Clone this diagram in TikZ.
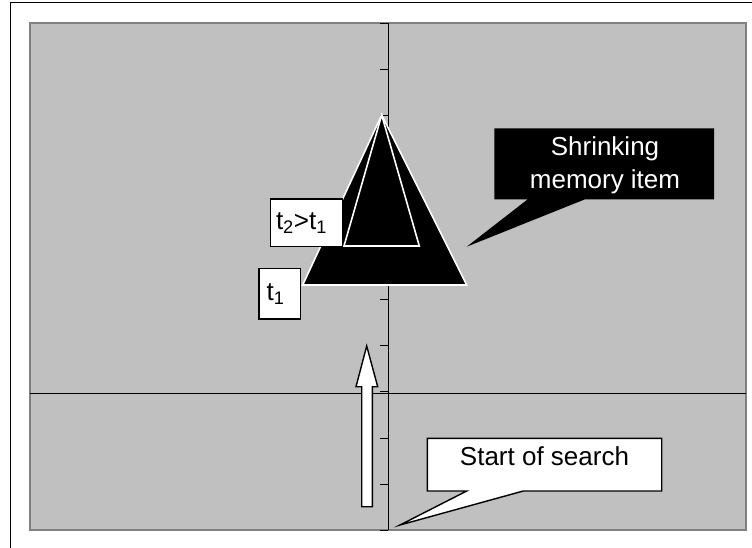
\documentclass[tikz,border=0pt]{standalone}
\usepackage{fontspec}
\setmainfont{Liberation Sans}
\definecolor{plotgray}{HTML}{C0C0C0}
\definecolor{bordergray}{HTML}{808080}
\begin{document}
\begin{tikzpicture}[x=1pt,y=-1pt,
  tlabel/.style={draw=black, line width=1.3pt, fill=white, inner ysep=0pt, align=left},
  axis/.style={draw=black, line width=0.8pt},
  tick/.style={draw=black, line width=0.8pt},
  tri/.style={draw=white, line width=1.6pt, fill=black, line join=miter},
  callout/.style={line width=1.4pt, line join=miter},
  bigfont/.style={font=\fontsize{26}{33}\selectfont}
]
\useasboundingbox (0,0) rectangle (752,548);
\fill[white] (0,0) rectangle (752,548);
% outer frame (left and top edges)
\draw[black, line width=1pt] (10,548) -- (10,3) -- (752,3);
% plot area
\draw[bordergray, line width=1.5pt, fill=plotgray] (30,23) rectangle (746,530);
% axes
\draw[axis] (30,393) -- (746,393);
\draw[axis] (388,23) -- (388,530);
\foreach \k in {0,...,11}{
  \draw[tick] (380,{23+46.1*\k}) -- (388,{23+46.1*\k});
}
% triangles
\coordinate (apex) at (381.7,115);
\coordinate (bl) at (302.7,285);
\coordinate (br) at (466.7,285);
\coordinate (il) at (344,246);
\coordinate (ir) at (419.3,246);
\draw[tri] (apex) -- (bl) -- (br) -- cycle;
\draw[tri] (apex) -- (il) -- (ir) -- cycle;
% labels
\node[tlabel, bigfont, minimum height=47.7pt, text width=61pt, inner xsep=5.3pt] (t2) at (306.5,222.8) {t\textsubscript{2}>t\textsubscript{1}};
\node[tlabel, bigfont, minimum height=50.7pt, text width=26pt, inner xsep=7.7pt] (t1) at (279.7,293.7) {t\textsubscript{1}};
% shrinking memory item callout
\coordinate (stip) at (466.7,246.7);
\fill[black] (494.3,128.3) -- (714,128.3) -- (714,199.3) -- (585,199.3) -- (stip) -- (527.7,199.3) -- (494.3,199.3) -- cycle;
\node[bigfont, text=white, align=center, inner sep=0pt] (shrink) at (605,165) {Shrinking\\memory item};
% upward arrow
\draw[callout, draw=black, fill=white] (361.7,506.7) -- (372.3,506.7) -- (372.3,386.7) -- (377.7,386.7) -- (366.7,346) -- (356,386.7) -- (361.7,386.7) -- cycle;
% start of search callout
\coordinate (ttip) at (400,525);
\draw[callout, draw=black, fill=white] (427.3,438.3) -- (661.7,438.3) -- (661.7,491) -- (523.3,491) -- (ttip) -- (466.7,491) -- (427.3,491) -- cycle;
\node[bigfont, anchor=base, inner sep=0pt] (start) at (544.5,465) {Start of search};
\end{tikzpicture}
\end{document}
